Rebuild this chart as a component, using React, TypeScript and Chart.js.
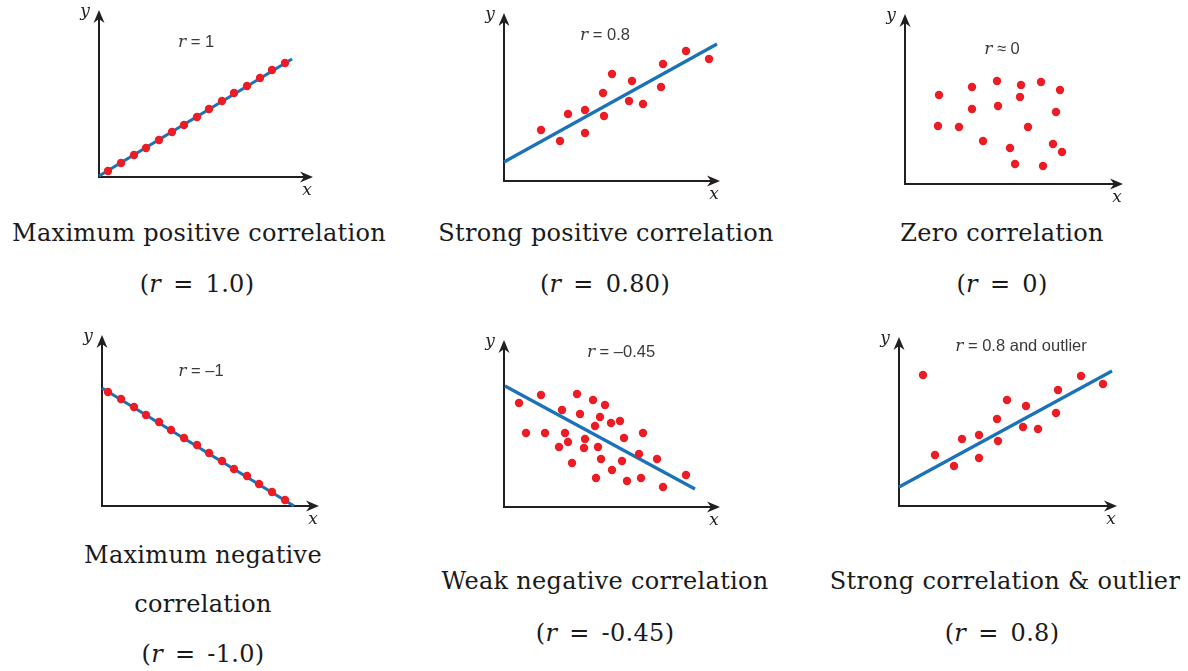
import React, { useEffect, useRef } from "react";
import { Chart, registerables } from "chart.js";

Chart.register(...registerables);

// ---------- Data (arbitrary units, origin at 0,0) ----------
// Panel 1: maximum positive correlation
const p1X = [9, 22, 35, 47, 60, 73, 85, 98, 110, 123, 135, 148, 161, 173, 186];
const p1Y = [6, 14, 22, 29, 37, 45, 52, 60, 68, 76, 84, 91, 99, 107, 114];
const p1LineX = [0, 193];
const p1LineY = [1, 118];

// Panel 2: strong positive correlation
const p2X = [37, 56, 64, 81, 81, 99, 100, 108, 125, 128, 139, 157, 159, 182, 205];
const p2Y = [51, 40, 67, 71, 48, 88, 65, 107, 80, 100, 77, 94, 117, 130, 122];
const p2LineX = [0, 213];
const p2LineY = [19, 137];

// Panel 3: zero correlation
const p3X = [34, 67, 92, 116, 136, 155, 115, 67, 93, 151, 33, 54, 123, 78, 105, 148, 157, 110, 138];
const p3Y = [89, 97, 103, 99, 102, 94, 87, 75, 78, 72, 58, 57, 57, 43, 36, 40, 32, 20, 18];

// Panel 4: maximum negative correlation
const p4X = [6, 19, 32, 44, 57, 69, 82, 95, 107, 120, 132, 145, 157, 170, 183];
const p4Y = [114, 107, 99, 91, 84, 76, 68, 61, 53, 45, 37, 30, 22, 14, 6];
const p4LineX = [0, 192];
const p4LineY = [118, 0];

// Panel 5: weak negative correlation
const p5X = [15, 37, 73, 89, 101, 58, 76, 96, 91, 107, 116, 22, 41, 61, 64, 81, 55, 80, 94, 120, 139, 135, 153, 68, 97, 118, 108, 92, 123, 137, 159, 182];
const p5Y = [104, 112, 113, 107, 102, 97, 93, 90, 81, 84, 86, 74, 74, 74, 65, 68, 60, 59, 60, 69, 74, 53, 48, 44, 48, 46, 37, 29, 26, 29, 20, 32];
const p5LineX = [1, 191];
const p5LineY = [121, 18];

// Panel 6: strong correlation with outlier
const p6X = [24, 36, 55, 63, 80, 80, 98, 99, 108, 124, 127, 139, 157, 159, 182, 204];
const p6Y = [131, 51, 40, 67, 71, 48, 87, 65, 106, 79, 100, 77, 93, 116, 130, 122];
const p6LineX = [0, 213];
const p6LineY = [19, 135];

// Axis extents (data units)
const axisXMax = [214, 216, 218, 217, 216, 218];
const axisYMax = [167, 168, 170, 171, 167, 169];

// r annotation texts (after the italic r)
const rTexts = [" = 1", " = 0.8", " \u2248 0", " = \u20131", " = \u20130.45", " = 0.8 and outlier"];

// Captions
const captions: string[][] = [
  ["Maximum positive correlation"],
  ["Strong positive correlation"],
  ["Zero correlation"],
  ["Maximum negative", "correlation"],
  ["Weak negative correlation"],
  ["Strong correlation & outlier"],
];
const captionR = ["1.0", "0.80", "0", "-1.0", "-0.45", "0.8"];

// ---------- Styles / layout ----------
const RED = "#ec1c24";
const BLUE = "#1b72b8";
const AXIS = "#231f20";
const TEXT = "#3a3a3a";
const PAD = 30;
const SERIF = "'DejaVu Serif', 'Liberation Serif', serif";
const SANS = "'Liberation Sans', Arial, 'DejaVu Sans', sans-serif";

type Panel = {
  xs: number[];
  ys: number[];
  lx?: number[];
  ly?: number[];
  xMax: number;
  yMax: number;
  ox: number; // pixel origin
  oy: number;
  rText: string;
  labelAt: [number, number]; // annotation center in data units
};

const panels: Panel[] = [
  { xs: p1X, ys: p1Y, lx: p1LineX, ly: p1LineY, xMax: axisXMax[0], yMax: axisYMax[0], ox: 99, oy: 177, rText: rTexts[0], labelAt: [97, 136] },
  { xs: p2X, ys: p2Y, lx: p2LineX, ly: p2LineY, xMax: axisXMax[1], yMax: axisYMax[1], ox: 504, oy: 181, rText: rTexts[1], labelAt: [101, 147] },
  { xs: p3X, ys: p3Y, xMax: axisXMax[2], yMax: axisYMax[2], ox: 905, oy: 184, rText: rTexts[2], labelAt: [97, 136] },
  { xs: p4X, ys: p4Y, lx: p4LineX, ly: p4LineY, xMax: axisXMax[3], yMax: axisYMax[3], ox: 102, oy: 506, rText: rTexts[3], labelAt: [99, 136] },
  { xs: p5X, ys: p5Y, lx: p5LineX, ly: p5LineY, xMax: axisXMax[4], yMax: axisYMax[4], ox: 504, oy: 507, rText: rTexts[4], labelAt: [117, 156] },
  { xs: p6X, ys: p6Y, lx: p6LineX, ly: p6LineY, xMax: axisXMax[5], yMax: axisYMax[5], ox: 899, oy: 506, rText: rTexts[5], labelAt: [122, 161] },
];

const captionLayout = [
  { cx: 199, mx: 197, base: [243, 294] },
  { cx: 606, mx: 605, base: [243, 294] },
  { cx: 1002, mx: 1002, base: [243, 294] },
  { cx: 203, mx: 203, base: [565, 614, 664] },
  { cx: 605, mx: 605, base: [591, 643] },
  { cx: 1005, mx: 1002, base: [591, 643] },
];

function arrowHead(ctx: CanvasRenderingContext2D, tx: number, ty: number, dir: "right" | "up") {
  const L = 13, W = 5.5, N = 4;
  ctx.beginPath();
  if (dir === "right") {
    ctx.moveTo(tx, ty);
    ctx.lineTo(tx - L, ty - W);
    ctx.lineTo(tx - L + N, ty);
    ctx.lineTo(tx - L, ty + W);
  } else {
    ctx.moveTo(tx, ty);
    ctx.lineTo(tx - W, ty + L);
    ctx.lineTo(tx, ty + L - N);
    ctx.lineTo(tx + W, ty + L);
  }
  ctx.closePath();
  ctx.fill();
}

function makePlugin(p: Panel) {
  return {
    id: "axesAndLabels",
    beforeDatasetsDraw(chart: any) {
      const { ctx, chartArea: a } = chart;
      ctx.save();
      ctx.strokeStyle = AXIS;
      ctx.fillStyle = AXIS;
      ctx.lineWidth = 2;
      ctx.beginPath();
      ctx.moveTo(a.left, a.top + 8);
      ctx.lineTo(a.left, a.bottom);
      ctx.lineTo(a.right - 8, a.bottom);
      ctx.stroke();
      arrowHead(ctx, a.right, a.bottom, "right");
      arrowHead(ctx, a.left, a.top, "up");
      ctx.restore();
    },
    afterDatasetsDraw(chart: any) {
      const { ctx, chartArea: a, scales } = chart;
      ctx.save();
      // axis names
      ctx.fillStyle = AXIS;
      ctx.font = `italic 17px ${SERIF}`;
      ctx.textAlign = "center";
      ctx.textBaseline = "alphabetic";
      ctx.fillText("y", a.left - 14, a.top + 6);
      ctx.fillText("x", a.right - 6, a.bottom + 18);
      // r annotation
      const cx = scales.x.getPixelForValue(p.labelAt[0]);
      const cy = scales.y.getPixelForValue(p.labelAt[1]);
      const rFont = `italic 17px ${SERIF}`;
      const sFont = `16.5px ${SANS}`;
      ctx.font = rFont;
      const wr = ctx.measureText("r").width;
      ctx.font = sFont;
      const ws = ctx.measureText(p.rText).width;
      const x0 = cx - (wr + ws) / 2;
      ctx.textAlign = "left";
      ctx.fillStyle = TEXT;
      ctx.font = rFont;
      ctx.fillText("r", x0, cy + 6);
      ctx.font = sFont;
      ctx.fillText(p.rText, x0 + wr, cy + 6);
      ctx.restore();
    },
  };
}

function PanelChart({ p }: { p: Panel }) {
  const ref = useRef<HTMLCanvasElement>(null);
  const w = p.xMax + 2 * PAD;
  const h = p.yMax + 2 * PAD;
  useEffect(() => {
    if (!ref.current) return;
    const datasets: any[] = [
      {
        data: p.xs.map((x, i) => ({ x, y: p.ys[i] })),
        backgroundColor: RED,
        pointBackgroundColor: RED,
        pointBorderWidth: 0,
        pointRadius: 4.2,
        showLine: false,
        clip: false,
      },
    ];
    if (p.lx && p.ly) {
      const ly = p.ly;
      datasets.push({
        data: p.lx.map((x, i) => ({ x, y: ly[i] })),
        showLine: true,
        borderColor: BLUE,
        borderWidth: 3.2,
        pointRadius: 0,
        fill: false,
        clip: false,
      });
    }
    const chart = new Chart(ref.current, {
      type: "scatter",
      data: { datasets },
      options: {
        animation: false,
        responsive: false,
        maintainAspectRatio: false,
        events: [],
        layout: { padding: PAD },
        plugins: {
          legend: { display: false },
          tooltip: { enabled: false },
          title: { display: false },
        },
        scales: {
          x: { type: "linear", display: false, min: 0, max: p.xMax },
          y: { type: "linear", display: false, min: 0, max: p.yMax },
        },
      } as any,
      plugins: [makePlugin(p)],
    });
    return () => chart.destroy();
  }, []);
  return (
    <canvas
      ref={ref}
      width={w}
      height={h}
      style={{
        position: "absolute",
        left: p.ox - PAD,
        top: p.oy - p.yMax - PAD,
        width: w,
        height: h,
      }}
    />
  );
}

const CAP_FONT = 24;
const capStyle = (cx: number, base: number): React.CSSProperties => ({
  position: "absolute",
  left: cx - 300,
  width: 600,
  top: base - Math.round(CAP_FONT * 0.93),
  textAlign: "center",
  fontFamily: SERIF,
  fontSize: CAP_FONT,
  lineHeight: `${CAP_FONT}px`,
  letterSpacing: "0.3px",
  whiteSpace: "nowrap",
  color: "#1a1a1a",
});

export default function App() {
  return (
    <div
      style={{
        position: "absolute",
        left: 0,
        top: 0,
        width: 1188,
        height: 671,
        background: "#ffffff",
        overflow: "hidden",
      }}
    >
      {panels.map((p, i) => (
        <PanelChart key={i} p={p} />
      ))}
      {captions.map((lines, i) => {
        const L = captionLayout[i];
        return (
          <React.Fragment key={"c" + i}>
            {lines.map((t, j) => (
              <div key={j} style={capStyle(L.cx, L.base[j])}>
                {t}
              </div>
            ))}
            <div style={capStyle(L.mx, L.base[lines.length])}>
              (<i>r</i>
              <span style={{ display: "inline-block", padding: "0 12px" }}>=</span>
              {captionR[i]})
            </div>
          </React.Fragment>
        );
      })}
    </div>
  );
}
